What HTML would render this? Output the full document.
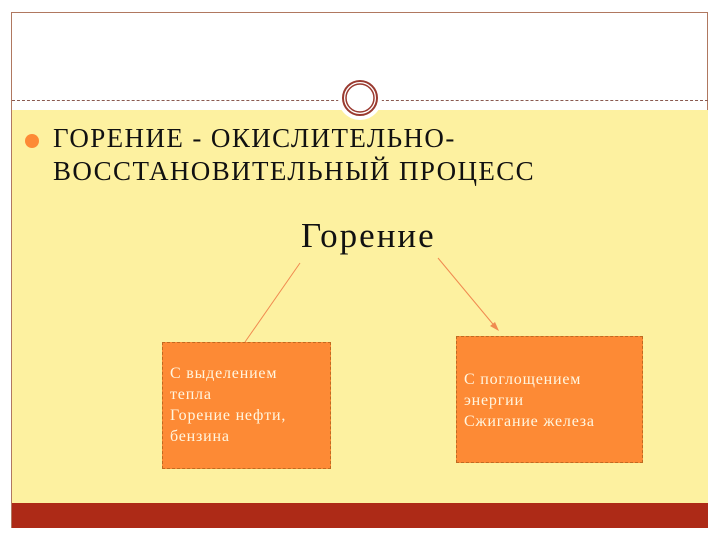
<!DOCTYPE html>
<html><head><meta charset="utf-8"><style>
body{margin:0;width:720px;height:540px;background:#fff;position:relative;overflow:hidden;font-family:"Liberation Serif",serif}
.frame{position:absolute;left:11px;top:12px;width:697px;height:516px;border:1px solid #b07860;border-bottom:none;box-sizing:border-box}
.yel{position:absolute;left:12px;top:110px;width:696px;height:393px;background:#fdf1a0}
.red{position:absolute;left:12px;top:503px;width:696px;height:25px;background:#ad2a17}
.dash{position:absolute;left:12px;top:100px;width:696px;border-top:1px dashed #8a5a50}
.t{position:absolute;left:53px;color:#111;font-size:27px;letter-spacing:1.4px;line-height:30px;white-space:nowrap}
.box{position:absolute;background:#fd8a35;border:1px dashed #c06a20;color:#fff6e0;font-size:16px;letter-spacing:0.8px;line-height:21px;box-sizing:border-box;padding-left:7px;white-space:nowrap}
</style></head><body>
<div class="frame"></div>
<div class="yel"></div>
<div class="red"></div>
<div class="dash"></div>
<svg style="position:absolute;left:0;top:0" width="720" height="540">
<circle cx="360" cy="98" r="22" fill="#fff"/>
<circle cx="360" cy="98" r="17" fill="#fff" stroke="#9a3a30" stroke-width="2"/>
<circle cx="360" cy="98" r="14" fill="none" stroke="#9a3a30" stroke-width="1.5"/>
<circle cx="32" cy="141" r="7" fill="#fd8a35"/>
<line x1="300" y1="263" x2="245" y2="342" stroke="#f08a50" stroke-width="1"/>
<line x1="438" y1="258" x2="497" y2="329" stroke="#f08a50" stroke-width="1"/>
<polygon points="499,331 490,326 495,322" fill="#f08a50"/>
</svg>
<div class="t" style="top:123px">ГОРЕНИЕ - ОКИСЛИТЕЛЬНО-</div>
<div class="t" style="top:156px">ВОССТАНОВИТЕЛЬНЫЙ ПРОЦЕСС</div>
<div style="position:absolute;left:301px;top:216px;font-size:35px;letter-spacing:2px;color:#111">Горение</div>
<div class="box" style="left:162px;top:342px;width:169px;height:127px;padding-top:20px">С выделением<br>тепла<br>Горение нефти,<br>бензина</div>
<div class="box" style="left:456px;top:336px;width:187px;height:127px;padding-top:32px">С поглощением<br>энергии<br>Сжигание железа</div>
</body></html>
